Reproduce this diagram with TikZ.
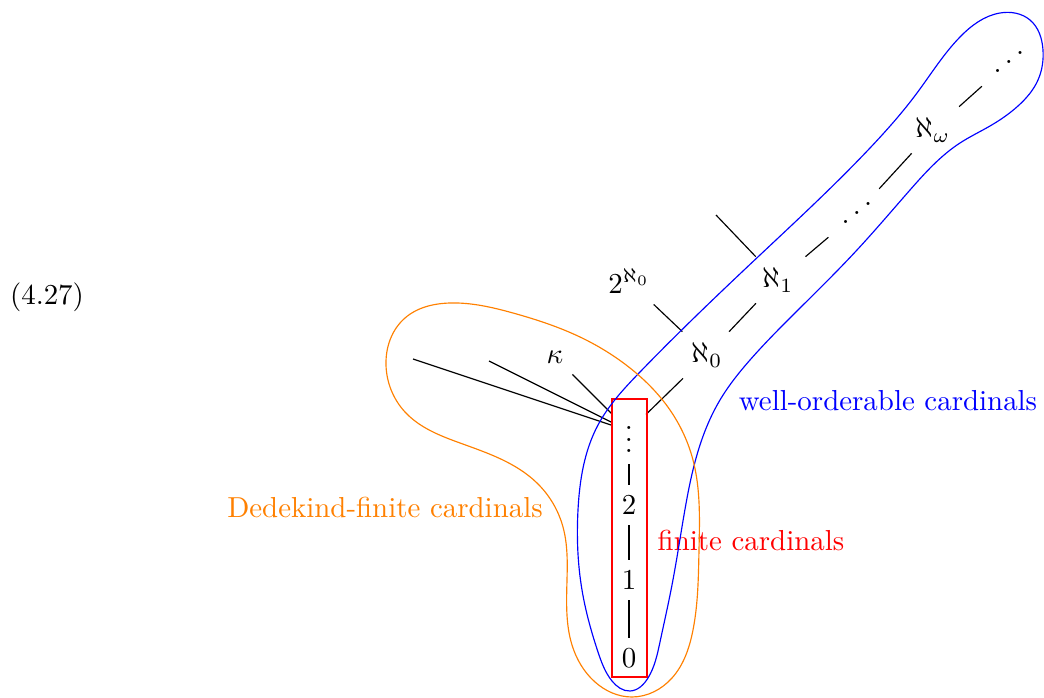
\documentclass[tikz,border=0pt]{standalone}
\usetikzlibrary{hobby}
% diagonal dots rising to the right
\newcommand\diagdots{\mathinner{\mkern1mu\raise1pt\vbox{\kern7pt\hbox{.}}\mkern2mu\raise4pt\hbox{.}\mkern2mu\raise7pt\hbox{.}\mkern1mu}}
\begin{document}
\begin{tikzpicture}[x=0.346pt, y=-0.346pt,
  cell/.style={inner xsep=1ex, inner ysep=0.85ex},
  link/.style={draw=black, line width=0.4pt},
  region/.style={line width=0.4pt},
  tag/.style={inner sep=0pt}]
\useasboundingbox (0,0) rectangle (1044,698);

% equation number
\node[tag] (eqn) at (47,297) {(4.27)};

% finite part of the chain
\node[cell] (n0) at (629,658) {$0$};
\node[cell] (n1) at (629,580) {$1$};
\node[cell] (n2) at (629,505) {$2$};
\node[cell] (vd) at (629,431) {$\vdots$};

% alephs
\node[cell] (a0) at (707,355) {$\aleph_0$};
\node[cell] (a1) at (778,280) {$\aleph_1$};
\node[cell] (d1) at (857,213) {$\diagdots$};
\node[cell] (aw) at (933,130) {$\aleph_\omega$};
\node[cell] (d2) at (1009,62) {$\diagdots$};

% other cardinals
\node[cell] (cont) at (629,281) {$2^{\aleph_0}$};
\node[cell] (kap) at (555,357) {$\kappa$};
\coordinate (u1) at (413,359);
\coordinate (u2) at (489,361);
\coordinate (u3) at (716,215);

% order relations
\draw[link] (n0) -- (n1);
\draw[link] (n1) -- (n2);
\draw[link] (n2) -- (vd);
\draw[link] (vd) -- (a0);
\draw[link] (a0) -- (a1);
\draw[link] (a1) -- (d1);
\draw[link] (d1) -- (aw);
\draw[link] (aw) -- (d2);
\draw[link] (cont) -- (a0);
\draw[link] (u3) -- (a1);
\draw[link] (kap) -- (vd);
\draw[link] (u1) -- (vd);
\draw[link] (u2) -- (vd);

% finite cardinals
\draw[red, region] (612,399) rectangle (647,677);
\node[tag, red] (finlab) at (751,540) {finite cardinals};

% well-orderable cardinals
\draw[blue, region] plot[closed hobby] coordinates {
  (630,691) (648,678) (660,642) (672,585) (684,515) (700,445) (720,400)
  (750,360) (797,311) (857,250) (910,190) (960,143) (990,126) (1018,106)
  (1038,80) (1043,50) (1030,20) (1000,13) (960,37) (917,93) (870,148)
  (760,255) (640,372) (598,425) (578,510) (582,590) (598,652) (612,681)};
\node[tag, blue] (wolab) at (888,401) {well-orderable cardinals};

% Dedekind-finite cardinals
\draw[orange, region] plot[closed hobby] coordinates {
  (632,697) (672,678) (693,630) (699,550) (693,460) (670,410) (630,368)
  (580,337) (513,313) (450,303) (405,318) (386,365) (405,412) (460,443)
  (537,483) (563,527) (567,580) (572,645) (595,682)};
\node[tag, orange] (dflab) at (385,507) {Dedekind-finite cardinals};
\end{tikzpicture}
\end{document}
